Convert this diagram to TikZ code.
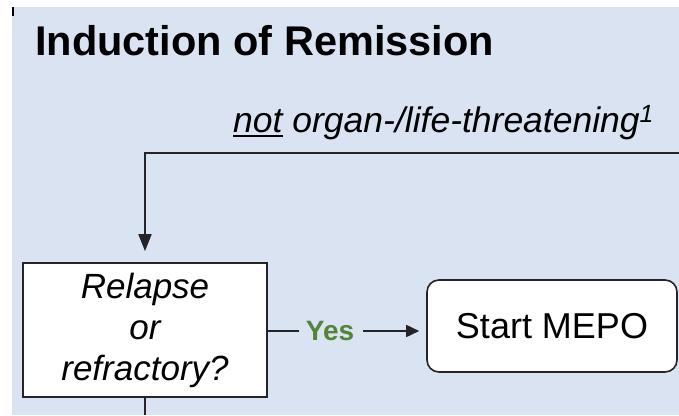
\documentclass[tikz,border=0pt]{standalone}
\usepackage{fontspec}
\setmainfont{Liberation Sans}
\usetikzlibrary{arrows.meta}

\definecolor{panelblue}{RGB}{218,227,242}
\definecolor{linegray}{RGB}{35,35,40}
\definecolor{yesgreen}{RGB}{84,132,56}

% word with a heavy underline
\newsavebox{\ulwordbox}
\newcommand{\ulword}[1]{\sbox{\ulwordbox}{#1}\rlap{\rule[-5pt]{\wd\ulwordbox}{1.8pt}}\usebox{\ulwordbox}}

\tikzset{
  conn/.style={draw=linegray, line width=1.6pt},
  tipdown/.style={-{Triangle[width=13pt,length=17pt]}},
  tipright/.style={-{Triangle[width=12pt,length=13pt]}},
  decbox/.style={draw=linegray, line width=1.6pt, fill=white,
    minimum width=244pt, minimum height=134pt, inner sep=0pt,
    align=center, font=\fontsize{35}{41}\selectfont\itshape},
  actbox/.style={draw=linegray, line width=1.6pt, fill=white, rounded corners=12pt,
    minimum width=250pt, minimum height=92pt, inner sep=0pt,
    font=\fontsize{36}{40}\selectfont},
  plain/.style={inner sep=0pt, text=black}
}

\begin{document}
\begin{tikzpicture}[x=1pt, y=-1pt]
  \useasboundingbox (0,0) rectangle (679,415);
  \fill[white] (0,0) rectangle (679,415);
  \fill[panelblue] (12,7) rectangle (679,415);
  \draw[black, line width=2.5pt] (13,7) -- (13,16);

  % headings
  \node[plain, anchor=base west, font=\fontsize{41.5}{45}\selectfont\bfseries]
    (title) at (35,55) {Induction of Remission};
  \node[plain, anchor=base west, font=\fontsize{35.5}{40}\selectfont\itshape]
    (cond) at (233,132) {\ulword{not} organ-/life-threatening\textsuperscript{1}};

  % flow
  \coordinate (feed) at (679,153);
  \coordinate (bend) at (145,153);
  \coordinate (down) at (145,415);
  \node[decbox] (dec) at (145,330) {Relapse\\or\\refractory?};
  \node[actbox] (mepo) at (552,326) {Start MEPO};
  \node[plain, text=yesgreen, font=\fontsize{28}{30}\selectfont\bfseries]
    (yes) at (330,331) {Yes};

  \draw[conn, tipdown, shorten >=11pt] (feed) -- (bend) -- (dec.north);
  \draw[conn] (dec.east |- yes.west) -- ([xshift=-7pt]yes.west);
  \draw[conn, tipright, shorten >=7pt] ([xshift=9pt]yes.east) -- (mepo.west |- yes.east);
  \draw[conn] (dec.south) -- (down);
\end{tikzpicture}
\end{document}
